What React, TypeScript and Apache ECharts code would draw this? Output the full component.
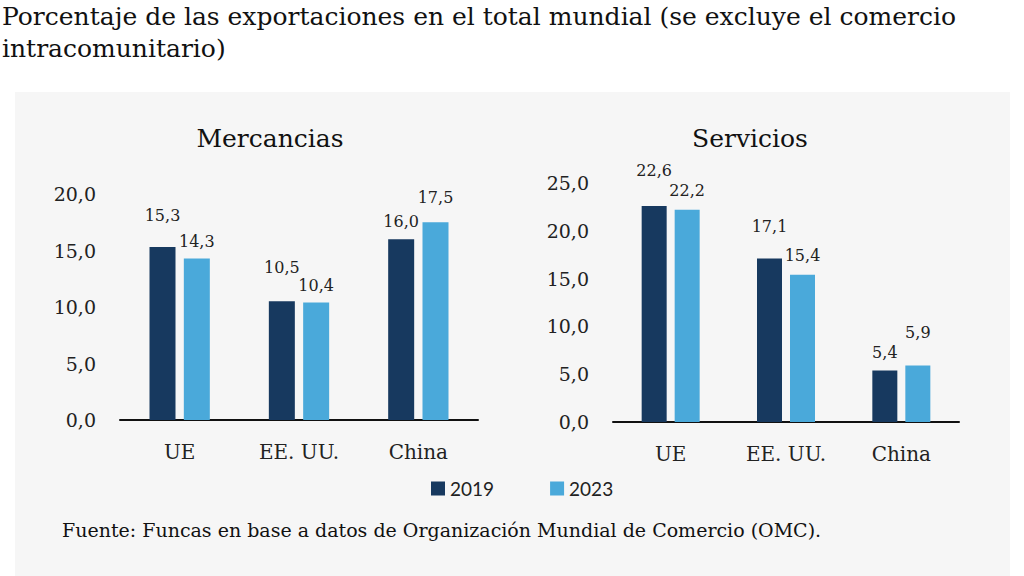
import React, { useEffect, useRef } from "react";
import * as echarts from "echarts";

const categories = ["UE", "EE. UU.", "China"];
const years = ["2019", "2023"];
const mercancias2019 = [15.3, 10.5, 16.0];
const mercancias2023 = [14.3, 10.4, 17.5];
const servicios2019 = [22.6, 17.1, 5.4];
const servicios2023 = [22.2, 15.4, 5.9];
const mercanciasTicks = { max: 20, interval: 5 };
const serviciosTicks = { max: 25, interval: 5 };

// label lift above each bar (style only)
const liftM2019 = [24, 26, 10];
const liftM2023 = [9, 9, 17];
const liftS2019 = [27, 24, 10];
const liftS2023 = [11, 11, 25];

const DARK = "#17395f";
const LIGHT = "#4aa9da";
const SERIF = "DejaVu Serif";
const fmt = (v: number) => v.toFixed(1).replace(".", ",");

export default function App() {
  const ref = useRef<HTMLDivElement>(null);
  useEffect(() => {
    if (!ref.current) return;
    const chart = echarts.init(ref.current, null, { renderer: "svg" });
    const mk = (name: string, vals: number[], lifts: number[], color: string, idx: number, bw: number) => ({
      type: "bar",
      name,
      xAxisIndex: idx,
      yAxisIndex: idx,
      barWidth: bw,
      barGap: "32%",
      itemStyle: { color },
      data: vals.map((v, i) => ({
        value: v,
        label: { distance: lifts[i] },
      })),
      label: {
        show: true,
        position: "top",
        formatter: (p: any) => fmt(p.value),
        fontFamily: SERIF,
        fontSize: 16,
        color: "#222",
      },
    });
    const yAxis = (idx: number, t: { max: number; interval: number }) => ({
      type: "value",
      gridIndex: idx,
      min: 0,
      max: t.max,
      interval: t.interval,
      splitLine: { show: false },
      axisLine: { show: false },
      axisTick: { show: false },
      axisLabel: {
        formatter: (v: number) => fmt(v),
        fontFamily: SERIF,
        fontSize: 19,
        color: "#222",
        margin: 24,
      },
    });
    const xAxis = (idx: number) => ({
      type: "category",
      gridIndex: idx,
      data: categories,
      axisLine: { show: true, lineStyle: { color: "#111", width: 2 } },
      axisTick: { show: false },
      axisLabel: { fontFamily: SERIF, fontSize: 20, color: "#222", margin: 22 },
    });
    chart.setOption({
      animation: false,
      backgroundColor: "#ffffff",
      grid: [
        { left: 120, right: 546, top: 194, bottom: 156 },
        { left: 613, right: 65, top: 183, bottom: 154 },
      ],
      xAxis: [xAxis(0), xAxis(1)],
      yAxis: [yAxis(0, mercanciasTicks), yAxis(1, serviciosTicks)],
      legend: {
        data: years,
        left: 426,
        top: 474,
        itemWidth: 14,
        itemHeight: 14,
        itemGap: 56,
        icon: "rect",
        textStyle: { fontFamily: "Lato", fontSize: 19, color: "#222" },
      },
      graphic: [
        {
          type: "rect",
          z: -10,
          silent: true,
          shape: { x: 15, y: 92, width: 995, height: 484 },
          style: { fill: "#f6f6f6" },
        },
        {
          type: "text",
          x: 2,
          y: 0,
          style: {
            text: "Porcentaje de las exportaciones en el total mundial (se excluye el comercio\nintracomunitario)",
            font: `25px "${SERIF}"`,
            fill: "#111",
            lineHeight: 32,
          },
        },
        {
          type: "text",
          x: 270,
          y: 138,
          style: { text: "Mercancias", font: `25px "${SERIF}"`, fill: "#111", align: "center", verticalAlign: "middle" },
        },
        {
          type: "text",
          x: 750,
          y: 138,
          style: { text: "Servicios", font: `25px "${SERIF}"`, fill: "#111", align: "center", verticalAlign: "middle" },
        },
        {
          type: "text",
          x: 62,
          y: 530,
          style: {
            text: "Fuente: Funcas en base a datos de Organización Mundial de Comercio (OMC).",
            font: `19px "${SERIF}"`,
            fill: "#111",
            verticalAlign: "middle",
          },
        },
      ],
      series: [
        mk("2019", mercancias2019, liftM2019, DARK, 0, 26),
        mk("2023", mercancias2023, liftM2023, LIGHT, 0, 26),
        mk("2019", servicios2019, liftS2019, DARK, 1, 25),
        mk("2023", servicios2023, liftS2023, LIGHT, 1, 25),
      ],
    });
    return () => chart.dispose();
  }, []);
  return <div ref={ref} style={{ position: "fixed", left: 0, top: 0, width: 1024, height: 576 }} />;
}
